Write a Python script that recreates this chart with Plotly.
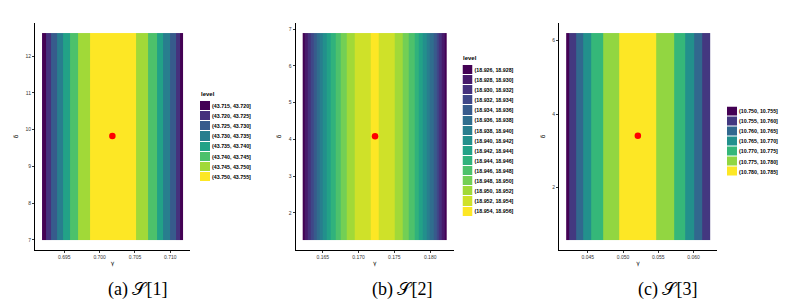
import plotly.graph_objects as go
from plotly.colors import sample_colorscale

# ---------------- data ----------------
# Panel (a) S[1]: band edges along gamma and the level index of each band
p1_edges = [0.69185, 0.69247, 0.69318, 0.69398, 0.69483, 0.69578, 0.69696, 0.69862,
            0.70511, 0.70682, 0.70809, 0.70903, 0.70998, 0.71079, 0.71140, 0.71179]
p1_levels = [0, 1, 2, 3, 4, 5, 6, 7, 6, 5, 4, 3, 2, 1, 0]
p1_delta = [7.0, 12.63]
p1_point = (0.7018, 9.83)
p1_labels = ["(43.715, 43.720]", "(43.720, 43.725]", "(43.725, 43.730]", "(43.730, 43.735]",
             "(43.735, 43.740]", "(43.740, 43.745]", "(43.745, 43.750]", "(43.750, 43.755]"]
p1_xticks = [0.695, 0.700, 0.705, 0.710]
p1_yticks = [7, 8, 9, 10, 11, 12]

# Panel (b) S[2]
p2_edges = [0.16220, 0.16253, 0.16290, 0.16327, 0.16369, 0.16411, 0.16458, 0.16504,
            0.16555, 0.16611, 0.16676, 0.16746, 0.16835, 0.16942, 0.17170, 0.17277,
            0.17501, 0.17617, 0.17706, 0.17780, 0.17845, 0.17901, 0.17952, 0.17999,
            0.18046, 0.18087, 0.18125, 0.18162, 0.18199, 0.18232]
p2_levels = [0, 1, 2, 3, 4, 5, 6, 7, 8, 9, 10, 11, 12, 13, 14,
             13, 12, 11, 10, 9, 8, 7, 6, 5, 4, 3, 2, 1, 0]
p2_delta = [1.26, 6.89]
p2_point = (0.1723, 4.08)
p2_labels = ["(18.926, 18.928]", "(18.928, 18.930]", "(18.930, 18.932]", "(18.932, 18.934]",
             "(18.934, 18.936]", "(18.936, 18.938]", "(18.938, 18.940]", "(18.940, 18.942]",
             "(18.942, 18.944]", "(18.944, 18.946]", "(18.946, 18.948]", "(18.948, 18.950]",
             "(18.950, 18.952]", "(18.952, 18.954]", "(18.954, 18.956]"]
p2_xticks = [0.165, 0.170, 0.175, 0.180]
p2_yticks = [2, 3, 4, 5, 6, 7]

# Panel (c) S[3]
p3_edges = [0.04193, 0.04241, 0.04330, 0.04439, 0.04547, 0.04712, 0.04943,
            0.05476, 0.05722, 0.05887, 0.06005, 0.06123, 0.06231]
p3_levels = [0, 1, 2, 3, 4, 5, 6, 5, 4, 3, 2, 1]
p3_delta = [0.58, 6.20]
p3_point = (0.0521, 3.41)
p3_labels = ["(10.750, 10.755]", "(10.755, 10.760]", "(10.760, 10.765]", "(10.765, 10.770]",
             "(10.770, 10.775]", "(10.775, 10.780]", "(10.780, 10.785]"]
p3_xticks = [0.045, 0.050, 0.055, 0.060]
p3_yticks = [2, 4, 6]

captions = ["(a) 𝒮[1]", "(b) 𝒮[2]", "(c) 𝒮[3]"]

# ---------------- layout constants ----------------
# the page body keeps its default 8px margin, so the figure is drawn 8px in
OFF = 8
W, H = 800 - OFF, 304 - OFF


def px_x(p):
    return (p - OFF) / W


def px_y(p):
    return (H - (p - OFF)) / H


ydom = [px_y(250.3), px_y(22.7)]
xdoms = [[px_x(35), px_x(190)], [px_x(295.5), px_x(454)], [px_x(559), px_x(717)]]
# legend key boxes (px): x0, x1, ytop, ybottom
leg_boxes = [(200, 210, 101, 182), (462.5, 472.5, 65, 216.7), (727, 737, 106.5, 176.7)]
leg_titles = ["level", "level", None]
cap_x = [137, 402, 667]

panels = [
    (p1_edges, p1_levels, p1_delta, p1_point, p1_labels, p1_xticks, p1_yticks),
    (p2_edges, p2_levels, p2_delta, p2_point, p2_labels, p2_xticks, p2_yticks),
    (p3_edges, p3_levels, p3_delta, p3_point, p3_labels, p3_xticks, p3_yticks),
]


def discrete_scale(colors):
    n = len(colors)
    cs = []
    for i, c in enumerate(colors):
        cs.append([i / n, c])
        cs.append([(i + 1) / n, c])
    return cs


fig = go.Figure()
layout = {}
annotations = []

for k, (edges, levels, delta, pt, labels, xt, yt) in enumerate(panels):
    n = len(labels)
    colors = sample_colorscale("Viridis", [i / (n - 1) for i in range(n)])
    cs = discrete_scale(colors)
    ax = "" if k == 0 else str(k + 1)
    xa, ya = "x" + ax, "y" + ax

    # main filled-contour bands
    fig.add_trace(go.Heatmap(
        x=edges, y=delta, z=[levels], zmin=-0.5, zmax=n - 0.5,
        colorscale=cs, showscale=False, xaxis=xa, yaxis=ya, hoverinfo="skip"))
    # optimum point
    fig.add_trace(go.Scatter(
        x=[pt[0]], y=[pt[1]], mode="markers",
        marker=dict(color="#FF0000", size=6.5, symbol="circle"),
        showlegend=False, xaxis=xa, yaxis=ya))

    xr = edges[-1] - edges[0]
    yr = delta[1] - delta[0]
    axis_common = dict(showline=True, linecolor="#000000", linewidth=1,
                       ticks="outside", ticklen=2, tickwidth=1, tickcolor="#333333",
                       showgrid=False, zeroline=False,
                       tickfont=dict(family="Liberation Sans, Arial", size=5, color="#333333"))
    layout["xaxis" + ax] = dict(
        domain=xdoms[k], anchor=ya,
        range=[edges[0] - 0.05 * xr, edges[-1] + 0.05 * xr],
        tickvals=xt, ticktext=[f"{v:.3f}" for v in xt],
        title=dict(text="γ", font=dict(family="DejaVu Sans", size=6, color="#000000"), standoff=1),
        **axis_common)
    layout["yaxis" + ax] = dict(
        domain=ydom, anchor=xa,
        range=[delta[0] - 0.05 * yr, delta[1] + 0.05 * yr],
        tickvals=yt, ticktext=[str(v) for v in yt],
        title=dict(text="δ", font=dict(family="DejaVu Sans", size=6, color="#000000"), standoff=6),
        **axis_common)

    # legend drawn as a small heatmap on its own axes
    lx0, lx1, lt, lb = leg_boxes[k]
    lax = str(k + 4)
    fig.add_trace(go.Heatmap(
        x=[0], y=labels, z=[[i] for i in range(n)], zmin=-0.5, zmax=n - 0.5,
        colorscale=cs, showscale=False, ygap=1,
        xaxis="x" + lax, yaxis="y" + lax, hoverinfo="skip"))
    layout["xaxis" + lax] = dict(domain=[px_x(lx0), px_x(lx1)], anchor="y" + lax,
                                 visible=False, fixedrange=True)
    layout["yaxis" + lax] = dict(domain=[px_y(lb), px_y(lt)], anchor="x" + lax,
                                 side="right", autorange="reversed", showline=False,
                                 showgrid=False, zeroline=False, ticks="", ticklabelstandoff=1,
                                 tickfont=dict(family="Liberation Sans, Arial", size=5.3,
                                               color="#000000", weight="bold"))
    if leg_titles[k]:
        annotations.append(dict(
            x=px_x(lx0 - 1), y=px_y(lt - 2), xref="paper", yref="paper",
            xanchor="left", yanchor="bottom", showarrow=False,
            text=leg_titles[k],
            font=dict(family="Liberation Sans, Arial", size=6, color="#000000", weight="bold")))

    annotations.append(dict(
        x=px_x(cap_x[k]), y=px_y(289), xref="paper", yref="paper",
        xanchor="center", yanchor="middle", showarrow=False,
        text=captions[k], font=dict(family="Liberation Serif, DejaVu Serif", size=18, color="#000000")))

fig.update_layout(
    width=W, height=H,
    margin=dict(l=0, r=0, t=0, b=0),
    paper_bgcolor="white", plot_bgcolor="white",
    showlegend=False,
    annotations=annotations,
    **layout)

fig.write_html("out.html")
